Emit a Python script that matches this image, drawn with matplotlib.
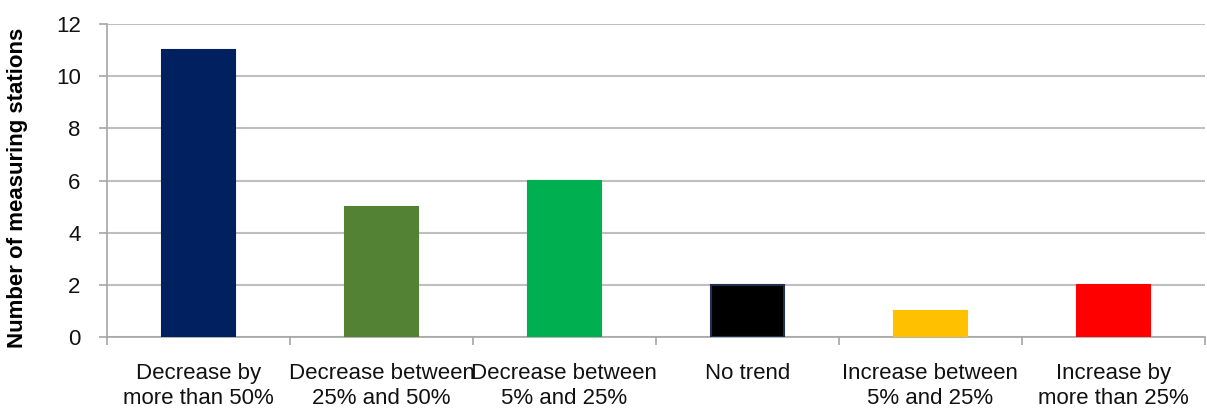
import matplotlib
matplotlib.use("Agg")
import matplotlib.pyplot as plt
import numpy as np

categories = ["Decrease by\nmore than 50%", "Decrease between\n25% and 50%",
              "Decrease between\n5% and 25%", "No trend",
              "Increase between\n5% and 25%", "Increase by\nmore than 25%"]
values = [11, 5, 6, 2, 1, 2]
colors = ["#002060", "#548235", "#00B050", "#000000", "#FFC000", "#FF0000"]
edges = ["#002060", "#548235", "#00B050", "#1F3050", "#FFC000", "#FF0000"]
yticks = [0, 2, 4, 6, 8, 10, 12]

plt.rcParams['font.family'] = ['Liberation Sans', 'DejaVu Sans']

fig = plt.figure(figsize=(12.07, 4.16), dpi=100)
ax = fig.add_axes([0.0887, 0.19, 0.9093, 0.752])

x = np.arange(len(categories))
ax.bar(x, values, width=0.4, color=colors, edgecolor=edges, linewidth=1.5, zorder=3)

ax.set_xlim(-0.5, len(categories) - 0.5)
ax.set_ylim(0, 12)
ax.set_yticks(yticks)
ax.yaxis.grid(True, color="#BFBFBF", linewidth=1.5, zorder=0)
ax.set_axisbelow(True)

ax.set_xticks(x)
ax.set_xticklabels(categories, fontsize=16, color="#111111")
ax.set_xticks(np.arange(len(categories) + 1) - 0.5, minor=True)
ax.tick_params(axis='x', which='major', length=0, pad=19)
ax.tick_params(axis='x', which='minor', length=6, width=1.2, color="#A6A6A6", direction='out')
ax.tick_params(axis='y', length=6, width=1.2, color="#A6A6A6", pad=13, labelsize=16,
               labelcolor="#111111")

for s in ["top", "right"]:
    ax.spines[s].set_visible(False)
ax.spines["left"].set_color("#A6A6A6")
ax.spines["bottom"].set_color("#A6A6A6")
ax.spines["left"].set_linewidth(1.2)
ax.spines["bottom"].set_linewidth(1.2)

ax.set_ylabel("Number of measuring stations", fontsize=16, fontweight='bold')
ax.yaxis.set_label_coords(-0.072, 0.476)

fig.savefig("out.png", dpi=100)
